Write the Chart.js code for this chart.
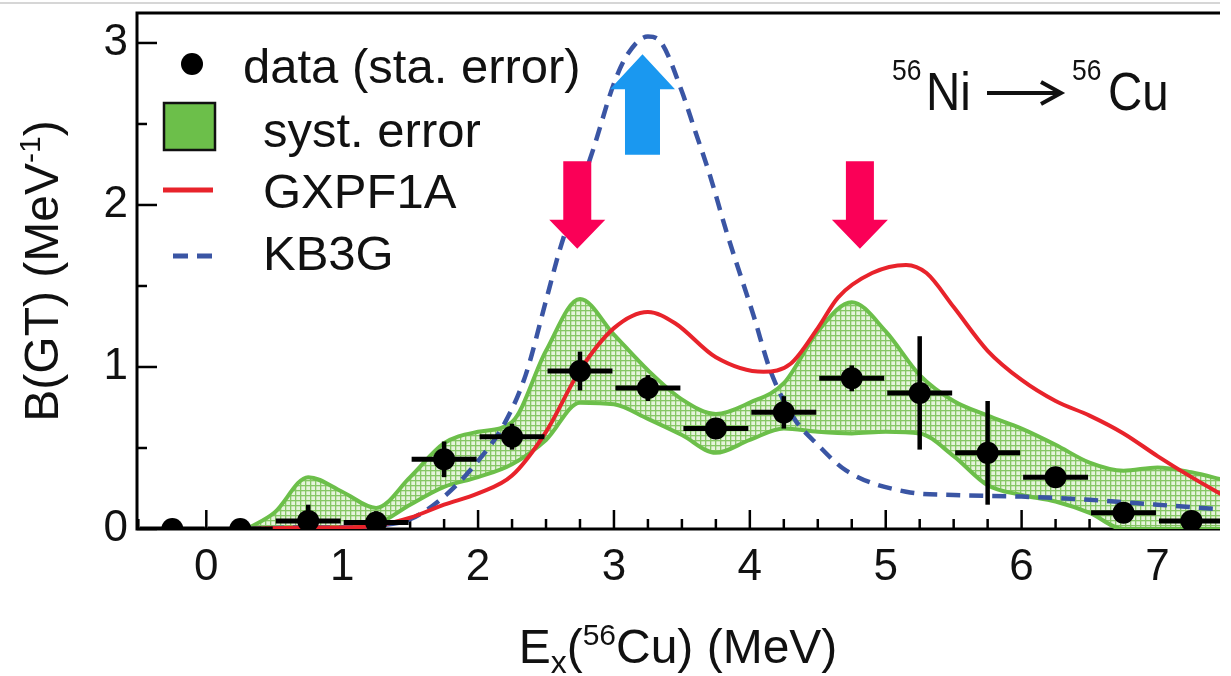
<!DOCTYPE html>
<html>
<head>
<meta charset="utf-8">
<script src="https://cdn.jsdelivr.net/npm/chart.js@4.4.1/dist/chart.umd.min.js"></script>
<style>
  html, body { margin: 0; padding: 0; background: #fff; overflow: hidden; }
  #bgt { display: block; }
</style>
</head>
<body>
<canvas id="bgt" width="1231" height="676"></canvas>
<script>
// ---- measured B(GT), 0.5 MeV bins (stat. error) ----
const binE    = [-0.25, 0.25, 0.75, 1.25, 1.75, 2.25, 2.75, 3.25, 3.75, 4.25, 4.75, 5.25, 5.75, 6.25, 6.75, 7.25];
const bgt     = [0.0, 0.0, 0.05, 0.04, 0.43, 0.57, 0.975, 0.87, 0.62, 0.72, 0.93, 0.84, 0.47, 0.32, 0.10, 0.05];
const statErr = [0.02, 0.02, 0.10, 0.07, 0.11, 0.08, 0.12, 0.08, 0.06, 0.10, 0.08, 0.35, 0.32, 0.05, 0.04, 0.03];
const binHalf = 0.25;

// ---- systematic error band ----
const systE    = [0.3, 0.5, 0.75, 1.0, 1.25, 1.5, 1.75, 2.0, 2.25, 2.5, 2.75, 3.0, 3.25, 3.5, 3.75, 4.0, 4.25, 4.5, 4.75, 5.0, 5.25, 5.5, 5.75, 6.0, 6.25, 6.5, 6.75, 7.0, 7.25, 7.5];
const systHigh = [0.0, 0.10, 0.32, 0.23, 0.13, 0.32, 0.53, 0.60, 0.66, 1.10, 1.42, 1.20, 0.98, 0.80, 0.71, 0.78, 0.90, 1.22, 1.40, 1.22, 0.95, 0.79, 0.70, 0.62, 0.52, 0.41, 0.36, 0.38, 0.35, 0.30];
const systLow  = [0.0, 0.0, 0.01, 0.01, 0.03, 0.15, 0.26, 0.32, 0.40, 0.55, 0.78, 0.77, 0.68, 0.58, 0.47, 0.55, 0.62, 0.60, 0.59, 0.60, 0.59, 0.45, 0.27, 0.21, 0.17, 0.10, 0.0, 0.0, 0.0, 0.0];

// ---- shell model: GXPF1A ----
const gxE = [0.3, 0.75, 1.0, 1.25, 1.5, 1.75, 2.0, 2.25, 2.5, 2.75, 3.0, 3.25, 3.45, 3.75, 4.1, 4.3, 4.5, 4.65, 4.9, 5.15, 5.3, 5.5, 5.75, 6.0, 6.25, 6.5, 6.75, 7.0, 7.25, 7.5];
const gxB = [0.0, 0.01, 0.01, 0.02, 0.07, 0.15, 0.22, 0.33, 0.60, 0.98, 1.24, 1.34, 1.27, 1.06, 0.97, 1.02, 1.24, 1.43, 1.58, 1.63, 1.58, 1.37, 1.10, 0.92, 0.79, 0.70, 0.59, 0.45, 0.32, 0.20];

// ---- shell model: KB3G ----
const kbE = [0.3, 0.75, 1.0, 1.25, 1.5, 1.75, 2.0, 2.2, 2.35, 2.5, 2.6, 2.75, 2.85, 3.0, 3.1, 3.25, 3.35, 3.5, 3.6, 3.7, 3.83, 4.03, 4.15, 4.32, 4.5, 4.71, 5.15, 5.5, 6.0, 6.5, 7.0, 7.5];
const kbB = [0.0, 0.01, 0.01, 0.02, 0.06, 0.20, 0.42, 0.66, 0.95, 1.41, 1.72, 2.10, 2.35, 2.75, 2.93, 3.04, 3.00, 2.70, 2.45, 2.20, 1.83, 1.31, 0.98, 0.69, 0.52, 0.36, 0.23, 0.21, 0.20, 0.18, 0.15, 0.12];

// ---- arrows (energy, from, to) ----
const arrows = [
  { e: 2.73, from: 2.27, to: 1.73, color: '#fa0057' },
  { e: 4.81, from: 2.27, to: 1.73, color: '#fa0057' },
  { e: 3.21, from: 2.31, to: 2.93, color: '#1a98f0' }
];

// ---- axes ----
const X_MIN = -0.51, X_MAX = 7.46;
const Y_MIN = 0, Y_MAX = 3.185;
const xMinorStep = 0.25, yMinorStep = 0.5;

const FONT = '"Liberation Sans", Arial, Helvetica, sans-serif';
const GREEN = '#6cbf4a';
const RED = '#e8232b';
const BLUE = '#3a55a4';

const xTickVals = [];
for (let v = Math.ceil(X_MIN / xMinorStep) * xMinorStep; v <= X_MAX; v += xMinorStep) xTickVals.push(v);
const yTickVals = [];
for (let v = Y_MIN; v <= Y_MAX; v += yMinorStep) yTickVals.push(v);

const toXY = (xs, ys) => xs.map((x, i) => ({ x, y: ys[i] }));

// dotted texture of the syst. band
function bandPattern() {
  const c = document.createElement('canvas');
  c.width = 5; c.height = 5;
  const g = c.getContext('2d');
  g.fillStyle = '#e6f4dc';
  g.fillRect(0, 0, 5, 5);
  g.fillStyle = '#86c765';
  g.fillRect(0, 0, 5, 1.3);
  g.fillRect(0, 0, 1.3, 5);
  return g.createPattern(c, 'repeat');
}

// text made of pieces: [text, size, dy]
function drawPieces(ctx, pieces, x, y, align) {
  let w = 0;
  pieces.forEach(p => { ctx.font = `${p[1]}px ${FONT}`; w += ctx.measureText(p[0]).width; });
  let cx = align === 'center' ? x - w / 2 : x;
  ctx.textAlign = 'left';
  ctx.textBaseline = 'alphabetic';
  pieces.forEach(p => {
    ctx.font = `${p[1]}px ${FONT}`;
    ctx.fillText(p[0], cx, y + (p[2] || 0));
    cx += ctx.measureText(p[0]).width;
  });
}

const axesPlugin = {
  id: 'axesPlugin',
  beforeDatasetsDraw(chart) {
    const { ctx, chartArea: a, scales: { x, y } } = chart;
    ctx.save();
    ctx.strokeStyle = '#000';
    ctx.lineCap = 'butt';
    // ticks pointing inward
    ctx.lineWidth = 2.5;
    xTickVals.forEach(v => {
      const px = x.getPixelForValue(v);
      const len = Number.isInteger(v) ? 19 : 10;
      ctx.beginPath(); ctx.moveTo(px, a.bottom); ctx.lineTo(px, a.bottom - len); ctx.stroke();
    });
    yTickVals.forEach(v => {
      const py = y.getPixelForValue(v);
      const len = Number.isInteger(v) ? 20 : 10;
      ctx.beginPath(); ctx.moveTo(a.left, py); ctx.lineTo(a.left + len, py); ctx.stroke();
    });
    // frame
    ctx.lineWidth = 3;
    ctx.beginPath();
    ctx.moveTo(a.right, a.top); ctx.lineTo(a.left, a.top);
    ctx.lineTo(a.left, a.bottom); ctx.lineTo(a.right, a.bottom);
    ctx.stroke();
    ctx.restore();
  },
  afterDatasetsDraw(chart) {
    const { ctx, chartArea: a, scales: { x, y } } = chart;
    ctx.save();
    ctx.beginPath();
    ctx.rect(a.left, a.top, a.right - a.left, a.bottom - a.top);
    ctx.clip();
    // error bars
    ctx.strokeStyle = '#000';
    binE.forEach((e, i) => {
      const px = x.getPixelForValue(e), py = y.getPixelForValue(bgt[i]);
      ctx.lineWidth = 5;
      ctx.beginPath();
      ctx.moveTo(x.getPixelForValue(e - binHalf) + 1.5, py);
      ctx.lineTo(x.getPixelForValue(e + binHalf) - 1.5, py);
      ctx.stroke();
      ctx.lineWidth = 4.5;
      ctx.beginPath();
      ctx.moveTo(px, y.getPixelForValue(bgt[i] - statErr[i]));
      ctx.lineTo(px, y.getPixelForValue(bgt[i] + statErr[i]));
      ctx.stroke();
    });
    // arrows
    arrows.forEach(ar => {
      const px = x.getPixelForValue(ar.e);
      const p0 = y.getPixelForValue(ar.from), p1 = y.getPixelForValue(ar.to);
      const dir = p1 > p0 ? 1 : -1;
      const up = dir < 0;
      const shaft = up ? 17.5 : 14, head = up ? 32.5 : 28, headLen = up ? 35 : 29;
      const base = p1 - dir * headLen;
      ctx.fillStyle = ar.color;
      ctx.beginPath();
      ctx.moveTo(px - shaft, p0); ctx.lineTo(px + shaft, p0);
      ctx.lineTo(px + shaft, base); ctx.lineTo(px + head, base);
      ctx.lineTo(px, p1); ctx.lineTo(px - head, base);
      ctx.lineTo(px - shaft, base);
      ctx.closePath();
      ctx.fill();
    });
    ctx.restore();
  },
  afterDraw(chart) {
    const { ctx, chartArea: a } = chart;
    ctx.save();
    // faint strip of the page above the plot
    ctx.strokeStyle = '#c8c8c8';
    ctx.lineWidth = 1.5;
    ctx.beginPath(); ctx.moveTo(0, 3); ctx.lineTo(a.right, 3); ctx.stroke();

    ctx.fillStyle = '#111';
    // axis titles
    drawPieces(ctx, [['E', 48], ['x', 32, 10], ['(', 48], ['56', 30, -18], ['Cu) (MeV)', 48]], 678, 663, 'center');
    ctx.save();
    ctx.translate(58, (a.top + a.bottom) / 2);
    ctx.rotate(-Math.PI / 2);
    drawPieces(ctx, [['B(GT) (MeV', 48], ['-1', 30, -18], [')', 48]], 0, 0, 'center');
    ctx.restore();

    // legend
    ctx.fillStyle = '#000';
    ctx.beginPath(); ctx.arc(192, 64, 11, 0, Math.PI * 2); ctx.fill();
    ctx.fillStyle = GREEN;
    ctx.fillRect(164, 103, 51, 47);
    ctx.strokeStyle = '#111'; ctx.lineWidth = 2.5;
    ctx.strokeRect(164, 103, 51, 47);
    ctx.strokeStyle = RED; ctx.lineWidth = 5;
    ctx.beginPath(); ctx.moveTo(163, 190); ctx.lineTo(213, 190); ctx.stroke();
    ctx.strokeStyle = BLUE; ctx.lineWidth = 5; ctx.setLineDash([15, 9]);
    ctx.beginPath(); ctx.moveTo(173, 256); ctx.lineTo(213, 256); ctx.stroke();
    ctx.setLineDash([]);
    ctx.fillStyle = '#111';
    ctx.font = `49px ${FONT}`;
    ctx.textAlign = 'left'; ctx.textBaseline = 'alphabetic';
    ctx.fillText('data (sta. error)', 243, 83);
    ctx.fillText('syst. error', 263, 147);
    ctx.fillText('GXPF1A', 263, 208);
    ctx.fillText('KB3G', 263, 270);

    // reaction label
    const squeeze = (txt, size, px, py) => {
      ctx.save(); ctx.translate(px, py); ctx.scale(0.88, 1);
      ctx.font = `${size}px ${FONT}`; ctx.fillText(txt, 0, 0); ctx.restore();
    };
    squeeze('56', 30, 892, 80);
    squeeze('Ni', 54, 926, 110);
    squeeze('56', 30, 1072, 80);
    squeeze('Cu', 54, 1108, 110);
    ctx.strokeStyle = '#111'; ctx.lineWidth = 4; ctx.lineJoin = 'miter';
    ctx.beginPath(); ctx.moveTo(987, 93); ctx.lineTo(1059, 93); ctx.stroke();
    ctx.beginPath(); ctx.moveTo(1041, 82); ctx.lineTo(1061, 93); ctx.lineTo(1041, 104); ctx.stroke();
    ctx.restore();
  }
};

const tickFont = { family: FONT, size: 44 };

new Chart(document.getElementById('bgt'), {
  type: 'line',
  data: {
    datasets: [
      {
        label: 'data (sta. error)',
        data: toXY(binE, bgt),
        showLine: false,
        pointRadius: 11,
        pointBackgroundColor: '#000',
        pointBorderWidth: 0,
        order: 1,
        clip: 0
      },
      {
        label: 'GXPF1A',
        data: toXY(gxE, gxB),
        borderColor: RED,
        borderWidth: 4,
        pointRadius: 0,
        cubicInterpolationMode: 'monotone',
        fill: false,
        order: 2,
        clip: 0
      },
      {
        label: 'KB3G',
        data: toXY(kbE, kbB),
        borderColor: BLUE,
        borderWidth: 4.5,
        borderDash: [14, 9],
        pointRadius: 0,
        cubicInterpolationMode: 'monotone',
        fill: false,
        order: 3,
        clip: 0
      },
      {
        label: 'syst. error',
        data: toXY(systE, systHigh),
        borderColor: GREEN,
        borderWidth: 4,
        backgroundColor: bandPattern(),
        pointRadius: 0,
        cubicInterpolationMode: 'monotone',
        fill: '+1',
        order: 5,
        clip: 0
      },
      {
        label: 'syst. error low',
        data: toXY(systE, systLow),
        borderColor: GREEN,
        borderWidth: 4,
        pointRadius: 0,
        cubicInterpolationMode: 'monotone',
        fill: false,
        order: 4,
        clip: 0
      }
    ]
  },
  options: {
    responsive: false,
    animation: false,
    layout: { padding: { top: 13, right: 0, bottom: 0, left: 0 } },
    plugins: {
      legend: { display: false },
      tooltip: { enabled: false }
    },
    scales: {
      x: {
        type: 'linear',
        min: X_MIN,
        max: X_MAX,
        afterBuildTicks: s => { s.ticks = xTickVals.map(v => ({ value: v })); },
        afterFit: s => { s.height = 147; s.paddingLeft = 0; s.paddingRight = 0; },
        grid: { display: false, drawTicks: false },
        border: { display: false },
        ticks: {
          autoSkip: false,
          maxRotation: 0,
          padding: 12,
          color: '#111',
          font: tickFont,
          callback: v => Number.isInteger(v) ? String(v) : ''
        }
      },
      y: {
        min: Y_MIN,
        max: Y_MAX,
        afterBuildTicks: s => { s.ticks = yTickVals.map(v => ({ value: v })); },
        afterFit: s => { s.width = 137; s.paddingTop = 0; s.paddingBottom = 0; },
        grid: { display: false, drawTicks: false },
        border: { display: false },
        ticks: {
          autoSkip: false,
          padding: 9,
          color: '#111',
          font: tickFont,
          callback: v => Number.isInteger(v) ? String(v) : ''
        }
      }
    }
  },
  plugins: [axesPlugin]
});
</script>
</body>
</html>
